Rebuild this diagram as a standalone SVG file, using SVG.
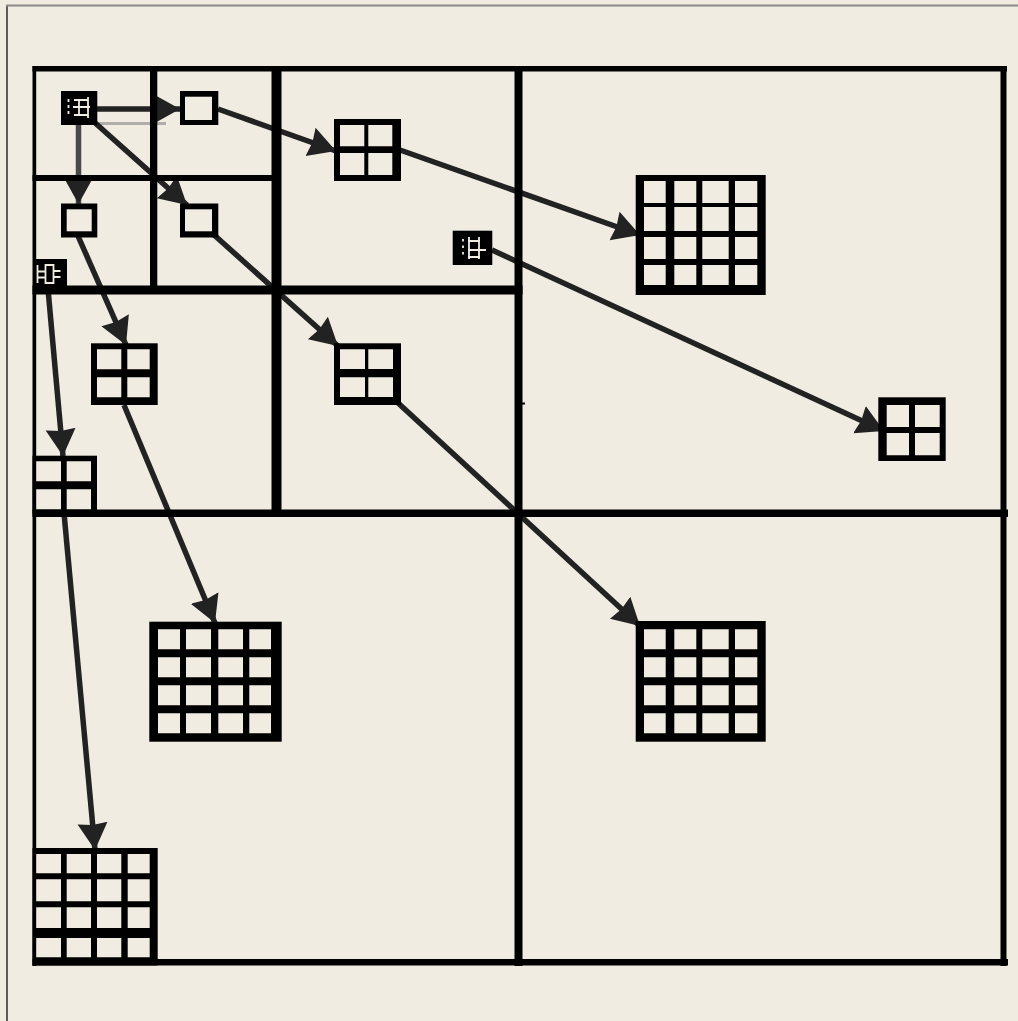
<svg xmlns="http://www.w3.org/2000/svg" width="1018" height="1021" viewBox="0 0 1018 1021">
<style>
.soft{filter:url(#soft)}
.k{fill:#000}
.c{fill:#f0ece2}
.ic{fill:none;stroke:#f0ece2;stroke-width:1.800}
.arr{stroke:#222;stroke-width:5.500;fill:none;marker-end:url(#ah)}
</style>
<defs>
<filter id="soft" x="-5%" y="-5%" width="110%" height="110%"><feGaussianBlur stdDeviation="0.450"/></filter>
<marker id="ah" markerUnits="userSpaceOnUse" markerWidth="34" markerHeight="34" refX="27" refY="16" orient="auto">
<path d="M0 1L27 16L0 31L2 16Z" fill="#222"/>
</marker>
</defs>
<rect width="1018" height="1021" fill="#f0ece2"/>
<path d="M7 1021V5" fill="none" stroke="#5c5b58" stroke-width="2"/>
<path d="M6 5.500H1018" fill="none" stroke="#8a8985" stroke-width="1.800"/>
<g id="connectors" class="soft">
<path d="M97 123.500H166" stroke="#b0aeaa" stroke-width="3" fill="none"/>
<path class="arr" d="M97 109H180"/>
<path class="arr" style="stroke:#4a4a4a" d="M78.500 124V204"/>
<path class="arr" d="M93 121L187 205"/>
<path class="arr" d="M218 109L336 151"/>
<path class="arr" d="M400 150L640 235"/>
<path class="arr" d="M492 250L884 431"/>
<path class="arr" d="M78 236L126 345"/>
<path class="arr" d="M213 234L338 346"/>
<path class="arr" d="M48 289L63 456"/>
<path class="arr" d="M124 405L215 623"/>
<path class="arr" d="M397 402L640 626"/>
<path class="arr" d="M64 513L95 850"/>
</g>
<g id="partitions" class="k soft">
<rect x="32.500" y="66" width="974.500" height="5.500"/>
<rect x="32.500" y="66" width="3.700" height="900"/>
<rect x="1000.500" y="66" width="6" height="900"/>
<rect x="32.500" y="959" width="975.500" height="6.500"/>
<rect x="514.500" y="66" width="8" height="900"/>
<rect x="32.500" y="509.500" width="975.500" height="7.500"/>
<rect x="32.500" y="285.500" width="490" height="9"/>
<rect x="271.500" y="66" width="10" height="450"/>
<rect x="32.500" y="175" width="245" height="6"/>
<rect x="150" y="66" width="7.300" height="225"/>
<rect x="522" y="402.500" width="3" height="2"/>
</g>
<g id="n1" class="soft"><rect class="k" x="61" y="91" width="36.300" height="34"/><path class="ic" stroke-dasharray="3 3" d="M68.500 99V117"/><path class="ic" d="M74 100H88M73 107H90M74 115H88M88 97V118M79 100V116"/></g>
<g id="n2" class="soft"><rect class="k" x="180" y="91" width="38.300" height="34"/><rect class="c" x="185" y="96.700" width="27" height="23.300"/></g>
<g id="n3" class="soft"><rect class="k" x="61" y="203.500" width="36.300" height="34"/><rect class="c" x="66.700" y="209.300" width="25" height="22"/></g>
<g id="n4" class="soft"><rect class="k" x="180" y="203.500" width="38.300" height="34"/><rect class="c" x="185" y="209.300" width="27" height="22"/></g>
<g id="n5" class="soft"><rect class="k" x="452.700" y="230.700" width="39.600" height="34.300"/><path class="ic" stroke-dasharray="2.500 4" d="M463 239V257"/><path class="ic" d="M469 237V259M479 237V259M468 241H480M468 250H486M468 257H480"/></g>
<g id="n6" class="soft"><rect class="k" x="35" y="259" width="32" height="30"/><path class="ic" d="M37.500 265V283M45.500 265H53.500V283H45.500ZM37.500 271.500H45.500M37.500 277.500H45.500M53.500 271H60.500M53.500 277H60.500"/></g>
<g id="n7" class="soft"><rect class="k" x="334" y="119" width="67" height="62"/><path class="c" d="M340 125h24.300v21.300h-24.300zM368.300 125h24v21.300h-24zM340 153h24.300v22h-24.300zM368.300 153h24v22h-24z"/></g>
<g id="n8" class="soft"><rect class="k" x="91" y="343.300" width="66.700" height="61.700"/><path class="c" d="M97 349.300h24.300v20h-24.300zM127.300 349.300h22.400v20h-22.400zM97 377.300h24.300v20h-24.300zM127.300 377.300h22.400v20h-22.400z"/></g>
<g id="n9" class="soft"><rect class="k" x="334" y="343.300" width="67" height="61.700"/><path class="c" d="M340 349.300h25v19.700h-25zM368.300 349.300h24.700v19.700h-24.700zM340 377.300h25v19.700h-25zM368.300 377.300h24.700v19.700h-24.700z"/></g>
<g id="n10" class="soft"><rect class="k" x="878.300" y="397.300" width="67.400" height="63.700"/><path class="c" d="M886.700 405h22.300v22h-22.300zM915 405h24.700v22h-24.700zM886.700 433h22.300v22.300h-22.300zM915 433h24.700v22.300h-24.700z"/></g>
<g id="n11" class="soft"><rect class="k" x="32.500" y="455.700" width="64.500" height="58"/><path class="c" d="M36.200 461.300h24.800v20h-24.800zM66.700 461.300h24.300v20h-24.300zM36.200 489.300h24.800v20h-24.800zM66.700 489.300h24.300v20h-24.300z"/></g>
<g id="n12" class="soft"><rect class="k" x="635.700" y="175" width="130" height="120"/><path class="c" d="M644 181h21.700v22h-21.700zM674.300 181h22v22h-22zM702.300 181h26.400v22h-26.400zM735 181h22.300v22h-22.300zM644 207h21.700v24h-21.700zM674.300 207h22v24h-22zM702.300 207h26.400v24h-26.400zM735 207h22.300v24h-22.300zM644 237h21.700v22h-21.700zM674.300 237h22v22h-22zM702.300 237h26.400v22h-26.400zM735 237h22.300v22h-22.300zM644 265h21.700v20h-21.700zM674.300 265h22v20h-22zM702.300 265h26.400v20h-26.400zM735 265h22.300v20h-22.300z"/></g>
<g id="n13" class="soft"><rect class="k" x="149.300" y="621.700" width="132.400" height="120"/><path class="c" d="M158 629.300h22v20h-22zM186 629.300h25v20h-25zM218.300 629.300h24.700v20h-24.700zM249.300 629.300h21.700v20h-21.700zM158 657.300h22v20h-22zM186 657.300h25v20h-25zM218.300 657.300h24.700v20h-24.700zM249.300 657.300h21.700v20h-21.700zM158 685.300h22v20h-22zM186 685.300h25v20h-25zM218.300 685.300h24.700v20h-24.700zM249.300 685.300h21.700v20h-21.700zM158 713.300h22v20h-22zM186 713.300h25v20h-25zM218.300 713.300h24.700v20h-24.700zM249.300 713.300h21.700v20h-21.700z"/></g>
<g id="n14" class="soft"><rect class="k" x="635.700" y="621" width="130" height="120.700"/><path class="c" d="M644 629.300h21.700v20h-21.700zM674.300 629.300h22v20h-22zM702.300 629.300h26.400v20h-26.400zM735 629.300h22.300v20h-22.300zM644 657.300h21.700v20h-21.700zM674.300 657.300h22v20h-22zM702.300 657.300h26.400v20h-26.400zM735 657.300h22.300v20h-22.300zM644 685.300h21.700v20h-21.700zM674.300 685.300h22v20h-22zM702.300 685.300h26.400v20h-26.400zM735 685.300h22.300v20h-22.300zM644 713.300h21.700v20h-21.700zM674.300 713.300h22v20h-22zM702.300 713.300h26.400v20h-26.400zM735 713.300h22.300v20h-22.300z"/></g>
<g id="n15" class="soft"><rect class="k" x="32.500" y="848" width="125.200" height="117.500"/><path class="c" d="M36.200 854h24.800v19.300h-24.800zM66.700 854h24.300v19.300h-24.300zM97 854h24.300v19.300h-24.300zM127.700 854h22v19.300h-22zM36.200 879.300h24.800v22h-24.800zM66.700 879.300h24.300v22h-24.300zM97 879.300h24.300v22h-24.300zM127.700 879.300h22v22h-22zM36.200 907.300h24.800v20.700h-24.800zM66.700 907.300h24.300v20.700h-24.300zM97 907.300h24.300v20.700h-24.300zM127.700 907.300h22v20.700h-22zM36.200 938h24.800v19.300h-24.800zM66.700 938h24.300v19.300h-24.300zM97 938h24.300v19.300h-24.300zM127.700 938h22v19.300h-22z"/></g>
</svg>
